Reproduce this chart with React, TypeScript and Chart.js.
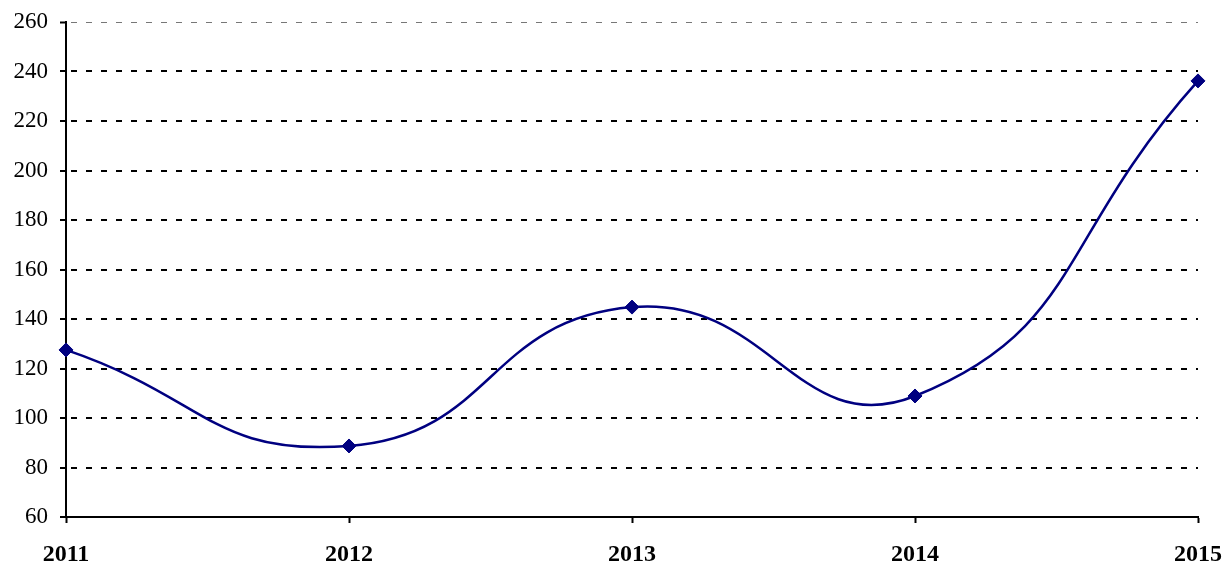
import React, { useEffect, useRef } from "react";
import { Chart, registerables } from "chart.js";

Chart.register(...registerables);

const years = ["2011", "2012", "2013", "2014", "2015"];
const values = [127.5, 88.7, 144.8, 108.9, 236.2];
const yMin = 60;
const yMax = 260;
const yStep = 20;

export default function App() {
  const ref = useRef<HTMLCanvasElement | null>(null);
  useEffect(() => {
    if (!ref.current) return;
    const chart = new Chart(ref.current, {
      type: "line",
      data: {
        labels: years,
        datasets: [
          {
            data: values,
            borderColor: "#000080",
            backgroundColor: "#000080",
            borderWidth: 2.5,
            tension: 0.5,
            pointStyle: "rectRot",
            pointRadius: 7,
            pointBorderWidth: 1,
            pointBackgroundColor: "#000080",
            pointBorderColor: "#000080",
            fill: false,
          },
        ],
      },
      options: {
        animation: false,
        responsive: true,
        maintainAspectRatio: false,
        layout: { padding: { top: 22, right: 29, left: 0, bottom: 0 } },
        plugins: { legend: { display: false }, tooltip: { enabled: false } },
        scales: {
          x: {
            offset: false,
            grid: {
              drawOnChartArea: false,
              drawTicks: true,
              tickLength: 6,
              tickColor: "#000",
              tickWidth: 2,
            },
            border: { display: true, color: "#000", width: 2 },
            ticks: {
              color: "#000",
              padding: 17,
              maxRotation: 0,
              font: { family: "'Liberation Serif', 'Times New Roman', serif", size: 24, weight: "bold" },
            },
            afterFit: (s: any) => {
              s.height = 45;
              s.paddingLeft = 0;
              s.paddingRight = 0;
            },
          },
          y: {
            min: yMin,
            max: yMax,
            grid: {
              color: (ctx: any) =>
                ctx.tick && ctx.tick.value === yMax
                  ? "#777"
                  : ctx.tick && ctx.tick.value === yMin
                  ? "rgba(0,0,0,0)"
                  : "#000",
              lineWidth: (ctx: any) => (ctx.tick && ctx.tick.value === yMax ? 1 : 2),
              tickLength: 6,
              tickColor: "#000",
              tickWidth: 2,
              tickBorderDash: [],
            },
            border: { display: true, color: "#000", width: 2, dash: [6, 9], dashOffset: 11 },
            ticks: {
              stepSize: yStep,
              color: "#000",
              padding: 12,
              font: { family: "'Liberation Serif', 'Times New Roman', serif", size: 23 },
            },
            afterFit: (s: any) => {
              s.width = 66;
              s.paddingTop = 0;
              s.paddingBottom = 0;
            },
          },
        },
      },
    });
    return () => chart.destroy();
  }, []);
  return (
    <div style={{ position: "absolute", left: 0, top: 0, width: 1227, height: 562 }}>
      <canvas ref={ref} />
    </div>
  );
}
